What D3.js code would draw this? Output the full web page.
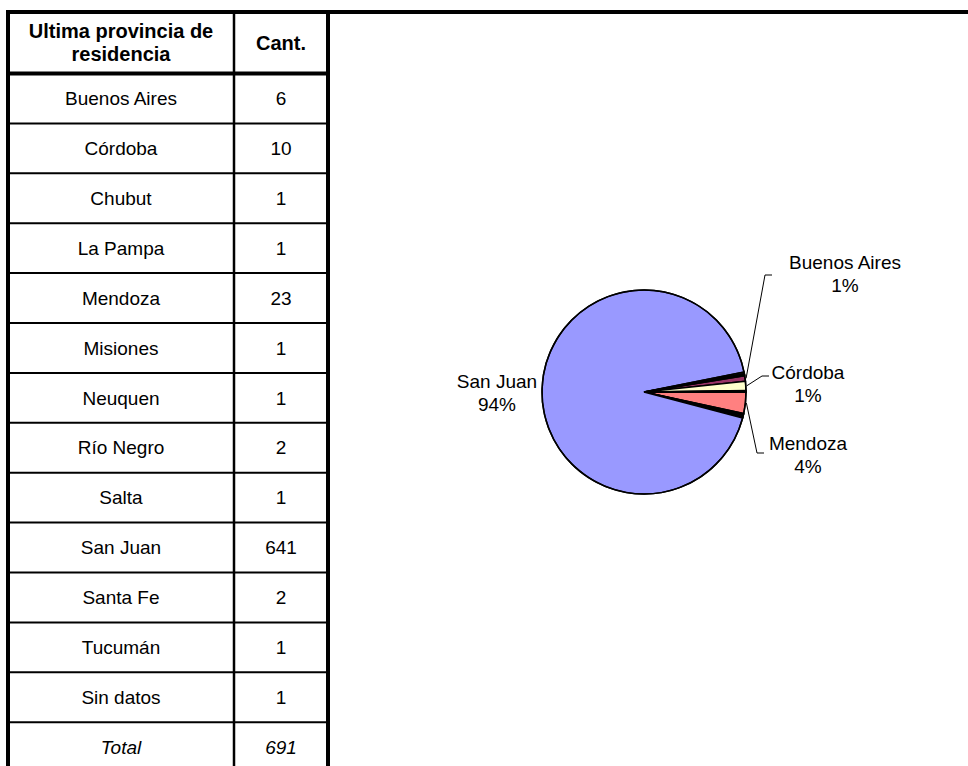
<!DOCTYPE html>
<html lang="es">
  <head>
    <meta charset="utf-8">
    <title>Ultima provincia de residencia</title>
    <style>
      body { margin: 0; background: #fff; }
      svg { display: block; font-family: Arial, "Liberation Sans", sans-serif; }
    </style>
  </head>
  <body>
    <svg class="chart"></svg>

    <script src="https://cdn.jsdelivr.net/npm/d3@7/dist/d3.min.js"></script>
    <script type="text/javascript">
    // datos de la tabla
    var provincias = ["Buenos Aires", "Córdoba", "Chubut", "La Pampa", "Mendoza", "Misiones",
                      "Neuquen", "Río Negro", "Salta", "San Juan", "Santa Fe", "Tucumán", "Sin datos"];
    var cantidades = [6, 10, 1, 1, 23, 1, 1, 2, 1, 641, 2, 1, 1];
    var totalLabel = "Total";
    var totalValue = 691;
    var headerLabels = [["Ultima provincia de", "residencia"], ["Cant."]];

    // etiquetas del grafico (como aparecen en la imagen)
    var pieLabelNames = ["San Juan", "Buenos Aires", "Córdoba", "Mendoza"];
    var pieLabelPercents = ["94%", "1%", "1%", "4%"];

    var colores = ["#993366", "#FFFFCC", "#1a1a1a", "#1a1a1a", "#FF8080", "#1a1a1a",
                   "#1a1a1a", "#1a1a1a", "#1a1a1a", "#9999FF", "#1a1a1a", "#1a1a1a", "#008080"];

    var width = 968, height = 766;

    var svg = d3.select(".chart")
        .attr("width", width)
        .attr("height", height);

    // ---- tabla ----
    var tLeft = 8, tDiv = 234, tRight = 328, tTop = 12, headBottom = 73.5, rowH = 49.9;
    var fs = 19;
    var rows = provincias.map(function(p, i) { return {name: p, value: cantidades[i]}; });
    rows.push({name: totalLabel, value: totalValue, total: true});

    var y = d3.scaleBand()
        .domain(d3.range(rows.length))
        .range([headBottom, headBottom + rowH * rows.length])
        .paddingInner(0).paddingOuter(0);

    var table = svg.append("g").attr("class", "table");

    // lineas de filas
    table.selectAll(".rowline")
        .data(rows.slice(1))
        .enter().append("line")
          .attr("x1", tLeft).attr("x2", tRight)
          .attr("y1", function(d, i) { return y(i + 1); })
          .attr("y2", function(d, i) { return y(i + 1); })
          .attr("stroke", "#000")
          .attr("stroke-width", 2);

    table.selectAll(".name")
        .data(rows)
        .enter().append("text")
          .attr("x", (tLeft + tDiv) / 2)
          .attr("y", function(d, i) { return y(i) + y.bandwidth() / 2; })
          .attr("dy", "0.35em")
          .attr("text-anchor", "middle")
          .attr("font-size", fs)
          .style("font-style", function(d) { return d.total ? "italic" : null; })
          .text(function(d) { return d.name; });

    table.selectAll(".val")
        .data(rows)
        .enter().append("text")
          .attr("x", (tDiv + tRight) / 2)
          .attr("y", function(d, i) { return y(i) + y.bandwidth() / 2; })
          .attr("dy", "0.35em")
          .attr("text-anchor", "middle")
          .attr("font-size", fs)
          .style("font-style", function(d) { return d.total ? "italic" : null; })
          .text(function(d) { return d.value; });

    // encabezado
    var hx = [(tLeft + tDiv) / 2, (tDiv + tRight) / 2];
    headerLabels.forEach(function(lines, c) {
      var cy = (tTop + headBottom) / 2;
      var t = table.append("text")
          .attr("x", hx[c])
          .attr("text-anchor", "middle")
          .attr("font-size", 20)
          .attr("font-weight", "bold");
      lines.forEach(function(l, k) {
        t.append("tspan")
          .attr("x", hx[c])
          .attr("y", cy + (k - (lines.length - 1) / 2) * 23)
          .attr("dy", "0.35em")
          .text(l);
      });
    });

    table.append("line")
        .attr("x1", tLeft).attr("x2", tRight)
        .attr("y1", headBottom).attr("y2", headBottom)
        .attr("stroke", "#000").attr("stroke-width", 4);

    table.append("line")
        .attr("x1", tDiv).attr("x2", tDiv)
        .attr("y1", tTop).attr("y2", height)
        .attr("stroke", "#000").attr("stroke-width", 2.5);

    // marco
    svg.append("line")
        .attr("x1", tLeft - 2).attr("x2", width)
        .attr("y1", tTop).attr("y2", tTop)
        .attr("stroke", "#000").attr("stroke-width", 4);
    svg.append("line")
        .attr("x1", tLeft).attr("x2", tLeft)
        .attr("y1", tTop - 2).attr("y2", height)
        .attr("stroke", "#000").attr("stroke-width", 4);
    svg.append("line")
        .attr("x1", tRight).attr("x2", tRight)
        .attr("y1", tTop).attr("y2", height)
        .attr("stroke", "#000").attr("stroke-width", 4);

    // ---- torta ----
    var cx = 644, cy = 392, r = 102;
    var start = 80.8 * Math.PI / 180;

    var pie = d3.pie()
        .sort(null)
        .value(function(d) { return d.value; })
        .startAngle(start)
        .endAngle(start + 2 * Math.PI);

    var arc = d3.arc().innerRadius(0).outerRadius(r);

    var color = d3.scaleOrdinal().domain(provincias).range(colores);

    var slices = pie(rows.slice(0, provincias.length));

    var g = svg.append("g")
        .attr("transform", "translate(" + cx + "," + cy + ")");

    g.selectAll(".slice")
        .data(slices)
        .enter().append("path")
          .attr("class", "slice")
          .attr("d", arc)
          .attr("fill", function(d) { return color(d.data.name); })
          .attr("stroke", "#000")
          .attr("stroke-width", 1.5)
          .attr("stroke-linejoin", "miter");

    g.append("circle")
        .attr("r", r)
        .attr("fill", "none")
        .attr("stroke", "#000")
        .attr("stroke-width", 1.5);

    // posiciones de las etiquetas (layout)
    var labelPos = {
      "San Juan": {x: 497, y: 381},
      "Buenos Aires": {x: 845, y: 262, elbow: [765, 275]},
      "Córdoba": {x: 808, y: 372, elbow: [762, 376]},
      "Mendoza": {x: 808, y: 443, elbow: [757, 453]}
    };

    var lbl = svg.append("g").attr("class", "labels");
    pieLabelNames.forEach(function(name, i) {
      var s = slices.filter(function(d) { return d.data.name === name; })[0];
      var p = labelPos[name];
      if (p.elbow) {
        var a = (s.startAngle + s.endAngle) / 2;
        var ex = cx + Math.sin(a) * (r + 1), ey = cy - Math.cos(a) * (r + 1);
        lbl.append("polyline")
            .attr("points", [[ex, ey], p.elbow, [p.elbow[0] + 7, p.elbow[1]]].join(" "))
            .attr("fill", "none")
            .attr("stroke", "#000")
            .attr("stroke-width", 1);
      }
      var t = lbl.append("text")
          .attr("text-anchor", "middle")
          .attr("font-size", 19);
      t.append("tspan").attr("x", p.x).attr("y", p.y).attr("dy", "0.35em").text(name);
      t.append("tspan").attr("x", p.x).attr("y", p.y + 23).attr("dy", "0.35em").text(pieLabelPercents[i]);
    });
    </script>
  </body>
</html>
